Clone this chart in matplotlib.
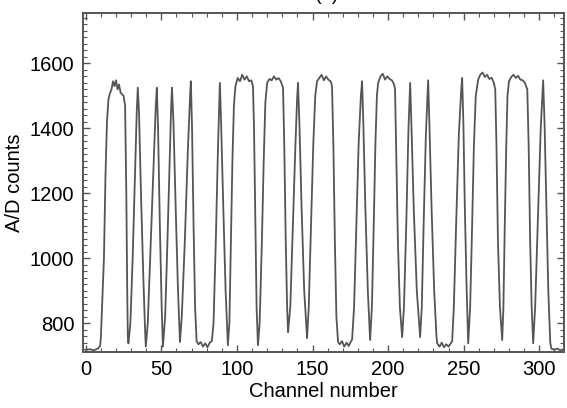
"""
Channel scan trace: A/D counts against channel number, panel (a).
Output: out.png
"""
import matplotlib
matplotlib.use("Agg")
import matplotlib.pyplot as plt
from matplotlib.ticker import MultipleLocator

plt.rcParams["font.family"] = ["Liberation Sans", "DejaVu Sans"]

# Trace key points (channel, counts)
CHANNEL = [
    0, 3, 5, 8, 9.5,
    10, 12, 13, 14, 15, 16,
    17, 18, 19, 20, 21, 22, 23, 24, 25,
    26, 26.8, 27.4, 27.8, 28.2,
    29.5, 31, 32.5, 33.7, 34.4,
    35.2, 36.5, 38, 39.2, 39.7,
    41, 43, 45, 46.3, 47,
    47.8, 49, 50.2, 51,
    52.5, 54, 55.5, 56.5, 57,
    58, 59.5, 61, 62.3,
    63.5, 65.5, 67.5, 69, 69.5,
    70.3, 71.3, 72.3, 73.3,
    74.5, 76, 77.5, 79, 80.5, 82, 83.4,
    84.5, 86, 87.5, 88.7,
    89.5, 91, 92.5, 94,
    95, 96, 97, 98, 99, 100.5, 102, 103.5, 105, 106.5, 108, 109.5, 110.6,
    111.3, 112.2, 113, 113.9,
    115, 116.5, 117.7, 118.8, 120, 121.5, 123, 124.5, 126, 127.5, 129, 130.5,
    131.3, 132.3, 133.2, 133.8,
    135.3, 137, 138.7, 139.8, 140.4,
    141.3, 142.8, 144.5, 146.4,
    147.5, 149, 150.5, 151.8, 153, 154.5, 156, 157.5, 159, 160.5, 162, 162.9,
    163.8, 164.8, 165.8, 166.9,
    168, 169.5, 171, 172.5, 174, 175.2, 176.2,
    177.5, 179, 180.5, 182, 182.8,
    183.6, 185, 186.6, 188.1,
    189.3, 190.5, 191.6, 192.6, 193.4, 195, 196.5, 198, 199.5, 201, 202.5, 204, 204.6,
    205.3, 206.5, 207.8, 209.3,
    210.5, 212, 213.5, 214.6,
    215.5, 217, 219, 221.2,
    222.3, 223.5, 225, 226.5,
    227.3, 228.8, 230.5, 232, 232.5,
    234, 235.5, 237, 238.5, 240, 241.5, 242.4,
    243.5, 245, 246.8, 248.3, 249,
    249.8, 250.8, 252, 253,
    254.3, 255.6, 256.8, 258, 259.6, 261, 262.5, 264, 265.5, 267, 268.5, 270, 270.9,
    271.7, 272.7, 274, 275.5,
    276.3, 277.2, 278.2, 279, 280, 281.5, 283, 284.5, 286, 287.5, 289, 290.5, 292.1,
    293, 294, 295, 296,
    297.3, 299, 301, 302.6,
    303.5, 304.8, 306, 307.3, 308,
    310, 312, 314, 316.5,
]
COUNTS = [
    718, 720, 716, 722, 730,
    760, 1000, 1250, 1420, 1490, 1508,
    1520, 1545, 1530, 1548, 1520, 1535, 1510, 1505, 1500,
    1470, 1200, 900, 760, 738,
    800, 1000, 1250, 1450, 1525,
    1450, 1200, 950, 780, 728,
    800, 1050, 1300, 1470, 1525,
    1400, 1100, 850, 728,
    820, 1050, 1300, 1470, 1525,
    1420, 1150, 900, 742,
    820, 1050, 1330, 1500, 1545,
    1400, 1100, 850, 745,
    735, 742, 728, 738, 726, 740, 745,
    800, 1050, 1350, 1540,
    1420, 1150, 900, 732,
    800, 1050, 1300, 1470, 1530, 1555, 1545, 1565, 1550, 1560, 1545, 1548, 1530,
    1400, 1100, 850, 732,
    800, 1050, 1300, 1480, 1540, 1552, 1548, 1560, 1550, 1555, 1545, 1525,
    1350, 1050, 850, 772,
    850, 1100, 1350, 1490, 1540,
    1420, 1150, 900, 754,
    850, 1100, 1350, 1500, 1545, 1555, 1565, 1548, 1560, 1550, 1545, 1530,
    1350, 1050, 820, 742,
    735, 745, 728, 740, 730, 742, 750,
    850, 1100, 1350, 1500, 1545,
    1420, 1150, 900, 748,
    850, 1100, 1350, 1500, 1540, 1560, 1568, 1550, 1560, 1552, 1548, 1535, 1520,
    1350, 1050, 850, 757,
    850, 1100, 1400, 1540,
    1400, 1150, 900, 757,
    850, 1100, 1380, 1548,
    1420, 1150, 900, 760, 738,
    728, 740, 726, 735, 728, 738, 745,
    850, 1100, 1380, 1510, 1555,
    1420, 1150, 900, 738,
    850, 1100, 1350, 1500, 1550, 1565, 1572, 1558, 1565, 1552, 1556, 1540, 1520,
    1350, 1050, 850, 748,
    850, 1100, 1350, 1500, 1545, 1558, 1565, 1555, 1562, 1550, 1548, 1540, 1520,
    1350, 1050, 850, 738,
    850, 1100, 1400, 1548,
    1420, 1150, 900, 740, 722,
    718, 722, 716, 720,
]

X_TICKS = [0, 50, 100, 150, 200, 250, 300]
Y_TICKS = [800, 1000, 1200, 1400, 1600]

fig = plt.figure(figsize=(5.67, 4.08), dpi=100)
ax = fig.add_axes([0.146, 0.137, 0.849, 0.831])

ax.plot(CHANNEL, COUNTS, color="#555555", linewidth=1.3)

ax.set_xlim(-2, 316.5)
ax.set_ylim(711, 1755)
ax.set_xticks(X_TICKS)
ax.set_yticks(Y_TICKS)
ax.xaxis.set_minor_locator(MultipleLocator(10))
ax.yaxis.set_minor_locator(MultipleLocator(20))
ax.tick_params(which="both", direction="in", top=True, right=True,
               labelsize=14.5, color="#555555", pad=6)
ax.tick_params(which="major", length=5, width=1)
ax.tick_params(which="minor", length=3, width=0.8)
for sp in ax.spines.values():
    sp.set_color("#555555")
    sp.set_linewidth(1.4)

ax.set_xlabel("Channel number", fontsize=14.5, labelpad=2)
ax.set_ylabel("A/D counts", fontsize=14.5, labelpad=4)

# panel title sits mostly above the visible canvas
fig.text(0.577, 1.001, "(a)", ha="center", va="baseline", fontsize=14.5)

fig.savefig("out.png", dpi=100)
